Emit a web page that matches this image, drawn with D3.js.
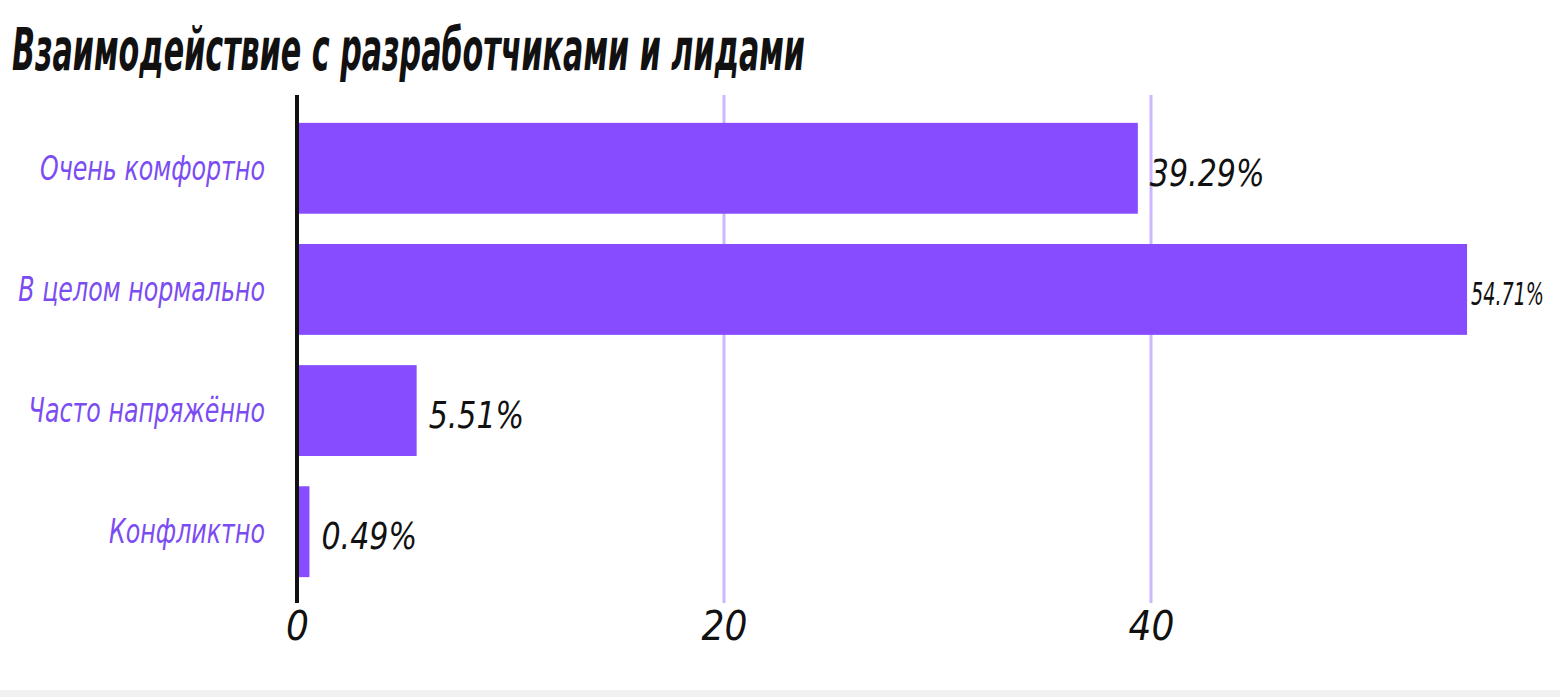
<!DOCTYPE html>
<html><head><meta charset="utf-8">
<script src="https://cdn.jsdelivr.net/npm/d3@7"></script>
<style>
html,body{margin:0;padding:0;background:#fff;}
svg{display:block;}
text{font-family:"Liberation Sans Narrow","DejaVu Sans Condensed","Roboto Condensed",sans-serif;font-style:italic;}
</style></head>
<body>
<svg id="chart" width="1560" height="697"></svg>
<script>
const title = "Взаимодействие с  разработчиками и лидами";
const categories = ["Очень комфортно", "В целом нормально", "Часто напряжённо", "Конфликтно"];
const values = [39.29, 54.71, 5.51, 0.49];
const valueLabels = ["39.29%", "54.71%", "5.51%", "0.49%"];
const tickValues = [0, 20, 40];

const W = 1560, H = 697;
const svg = d3.select("#chart");
const m = {left: 297, top: 95, bottom: 603};

svg.append("rect").attr("x",0).attr("y",690).attr("width",W).attr("height",7).attr("fill","#f1f1f1");

const x = d3.scaleLinear().domain([0, 20]).range([m.left, 724]);
const y = d3.scaleBand().domain(categories).range([95, 605]).paddingInner(0.25).paddingOuter(0.23);

// title
svg.append("text").attr("x", 12).attr("y", 70)
  .attr("font-size", 58).attr("font-weight", "bold").attr("fill", "#111")
  .attr("textLength", 793).attr("lengthAdjust", "spacingAndGlyphs")
  .text(title);

// grid lines
svg.append("g").selectAll("line").data(tickValues.filter(d => d > 0)).join("line")
  .attr("x1", d => x(d)).attr("x2", d => x(d))
  .attr("y1", m.top).attr("y2", m.bottom)
  .attr("stroke", "#cbb8ff").attr("stroke-width", 3);

// bars
svg.append("g").selectAll("rect").data(values).join("rect")
  .attr("x", x(0) + 2)
  .attr("y", (d, i) => y(categories[i]))
  .attr("width", d => x(d) - x(0))
  .attr("height", y.bandwidth())
  .attr("fill", "#874cff");

// zero axis
svg.append("line").attr("x1", x(0)).attr("x2", x(0)).attr("y1", m.top).attr("y2", m.bottom)
  .attr("stroke", "#111").attr("stroke-width", 4);

// x axis ticks
const xAxis = d3.axisBottom(x).tickValues(tickValues).tickSize(0).tickPadding(0);
const gx = svg.append("g").attr("transform", `translate(0,${m.bottom})`).call(xAxis);
gx.select(".domain").remove();
gx.selectAll("text").attr("font-size", 40).attr("fill", "#111")
  .attr("font-family", null).attr("dy", null).attr("y", 37);

// category labels
const yAxis = d3.axisLeft(y).tickSize(0).tickPadding(0);
const gy = svg.append("g").attr("transform", `translate(${265},0)`).call(yAxis);
gy.select(".domain").remove();
gy.selectAll("text").attr("font-size", 33).attr("fill", "#7b4cf2")
  .attr("font-family", null).attr("dy", "0.35em");
gy.selectAll("text").each(function() {
  const w = Math.min(this.getComputedTextLength() * 0.8, 252);
  d3.select(this).attr("textLength", w).attr("lengthAdjust", "spacingAndGlyphs");
});

// value labels (horizontally condensed via transform)
const vg = svg.append("g").selectAll("g").data(values).join("g")
  .attr("transform", (d, i) => `translate(${x(d) + 14},${y(categories[i]) + y.bandwidth() / 2 + 4})`);
const vl = vg.append("text")
  .attr("dy", "0.35em")
  .attr("font-size", 38).attr("fill", "#111")
  .attr("transform", "scale(0.88,1)")
  .text((d, i) => valueLabels[i]);
vl.each(function(d, i) {
  const natural = this.getComputedTextLength();
  if (x(d) + 14 + natural * 0.88 > W - 16) {
    const t = d3.select(this).attr("font-size", 32);
    const n2 = this.getComputedTextLength();
    const avail = W - 16 - (x(d) + 6);
    d3.select(this.parentNode).attr("transform",
      `translate(${x(d) + 6},${y(categories[i]) + y.bandwidth() / 2 + 4})`);
    t.attr("transform", `scale(${avail / n2},1)`);
  }
});
</script>
</body></html>
